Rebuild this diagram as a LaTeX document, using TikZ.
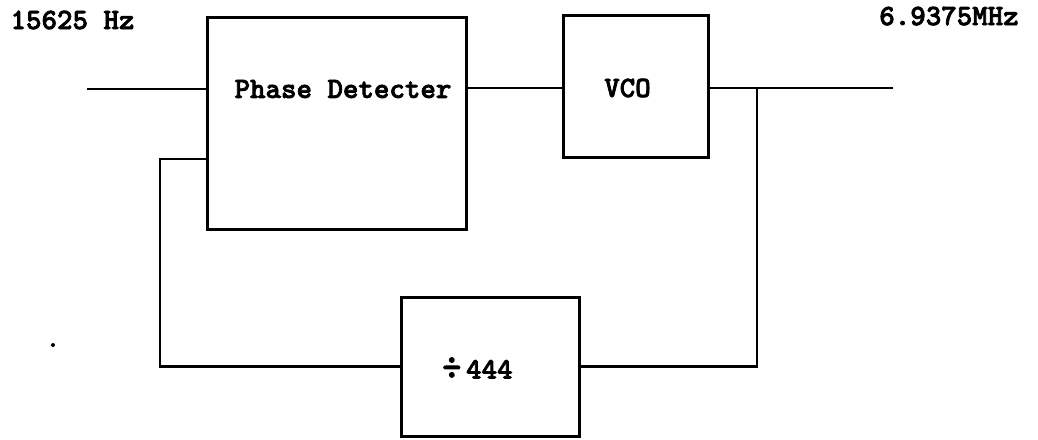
\documentclass[tikz,border=0pt]{standalone}
\usepackage{fontspec}
\newfontfamily\twfont{lmmonolt10-bold.otf}[FakeBold=2.5]
\begin{document}
\begin{tikzpicture}[x=1pt,y=-1pt,
  box/.style={draw, line width=3pt, rectangle, inner sep=0pt},
  wire/.style={line width=2.4pt},
  lbl/.style={inner sep=0pt, font=\fontsize{29.5}{33}\selectfont\twfont}]
\useasboundingbox (0,0) rectangle (1038,439);
\fill[white] (0,0) rectangle (1038,439);
% blocks
\node[box, minimum width=259pt, minimum height=212pt] (pd) at (336.5,123) {};
\node[lbl] (pdt) at (343,89) {Phase Detecter};
\node[box, minimum width=145pt, minimum height=142pt] (vco) at (635.5,86) {};
\node[lbl] (vcot) at (627.5,88) {VCO};
\node[box, minimum width=178pt, minimum height=139pt] (div) at (490,366.5) {};
\node[lbl] (divt) at (477.5,368) {{\fontsize{36}{36}\selectfont ÷}\,444};
% frequency labels
\node[lbl] (fin) at (72.5,20) {15625 Hz};
\node[lbl] (fout) at (949,16) {6.9375MHz};
% stray speck
\node[circle, fill, inner sep=0pt, minimum size=4pt] (speck) at (53,345) {};
% coordinates
\coordinate (in) at (87,89);
\coordinate (fbL) at (160,159);
\coordinate (j) at (757,88);
\coordinate (out) at (893,88);
% connectors
\draw[wire] (in) -- (in -| pd.west);
\draw[wire] (pd.east |- j) -- (vco.west |- j);
\draw[wire] (vco.east |- j) -- (out);
\draw[wire] (j) -- (j |- div.east) -- (div.east);
\draw[wire] (div.west) -- (fbL |- div.west) -- (fbL) -- (fbL -| pd.west);
\end{tikzpicture}
\end{document}
